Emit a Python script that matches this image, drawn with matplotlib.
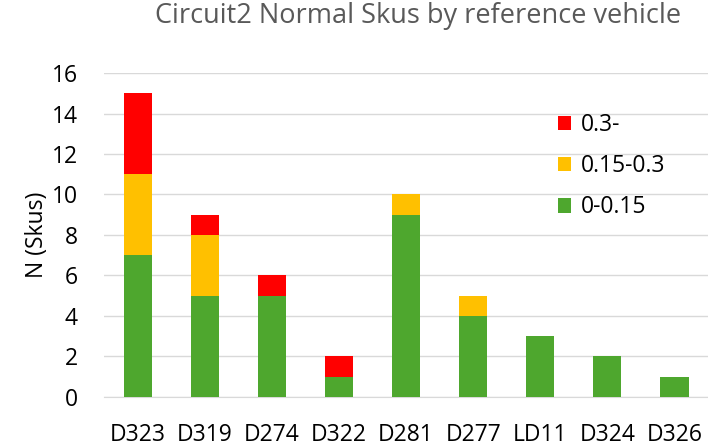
import matplotlib
matplotlib.use("Agg")
import matplotlib.pyplot as plt
import numpy as np

plt.rcParams['font.family'] = ['Open Sans', 'DejaVu Sans']

vehicles = ["D323", "D319", "D274", "D322", "D281", "D277", "LD11", "D324", "D326"]
low = [7, 5, 5, 1, 9, 4, 3, 2, 1]      # 0-0.15
mid = [4, 3, 0, 0, 1, 1, 0, 0, 0]      # 0.15-0.3
high = [4, 1, 1, 1, 0, 0, 0, 0, 0]     # 0.3-

green = "#4EA72E"
yellow = "#FFC000"
red = "#FF0000"

fig = plt.figure(figsize=(7.08, 4.48), dpi=100)
ax = fig.add_axes([0.147, 0.114, 0.853, 0.723])

x = np.arange(len(vehicles))
w = 0.42
b1 = ax.bar(x, low, w, color=green, label="0-0.15", zorder=3)
b2 = ax.bar(x, mid, w, bottom=low, color=yellow, label="0.15-0.3", zorder=3)
b3 = ax.bar(x, high, w, bottom=np.array(low) + np.array(mid), color=red, label="0.3-", zorder=3)

ax.set_xlim(-0.5, len(vehicles) - 0.5)
ax.set_ylim(0, 16)
ax.set_yticks(range(0, 17, 2))
ax.set_xticks(x)
ax.set_xticklabels(vehicles)
ax.yaxis.grid(True, color="#D9D9D9", linewidth=1, zorder=0)
for s in ["top", "right", "left"]:
    ax.spines[s].set_visible(False)
ax.spines["bottom"].set_color("#D9D9D9")
ax.tick_params(axis="both", length=0, labelsize=16.5, colors="black")
ax.tick_params(axis="x", pad=19)
ax.tick_params(axis="y", pad=19)
ax.set_ylabel("N (Skus)", fontsize=16.5, labelpad=2)

fig.suptitle("Circuit2 Normal Skus by reference vehicle", fontsize=19.5, color="#595959",
             x=0.59, y=0.995)

ax.legend(handles=[b3, b2, b1], loc="upper left", bbox_to_anchor=(0.717, 0.94),
          frameon=False, fontsize=16.5, handlelength=0.6, handleheight=0.6,
          labelspacing=0.75, handletextpad=0.4)

fig.savefig("out.png", dpi=100)
plt.close(fig)
